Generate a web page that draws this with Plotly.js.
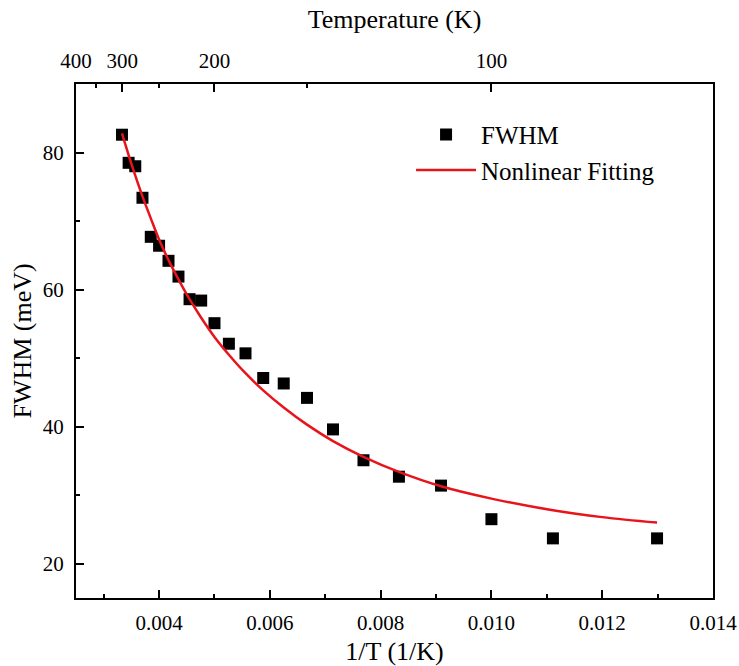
<!DOCTYPE html>
<html>
<head>
<meta charset="utf-8">
<script src="https://cdn.plot.ly/plotly-3.0.1.min.js"></script>
<style>html,body{margin:0;padding:0;background:#fff;}#chart{width:739px;height:666px;}</style>
</head>
<body>
<div id="chart"></div>
<script>
// Measured points: 1/T (1/K) and FWHM (meV)
var invT = [0.00333, 0.00345, 0.00357, 0.00370, 0.00385, 0.00400, 0.00417, 0.00435,
            0.00455, 0.00476, 0.00500, 0.00526, 0.00556, 0.00588, 0.00625, 0.00667,
            0.00714, 0.00769, 0.00833, 0.00909, 0.01000, 0.01111, 0.01299];
var fwhm = [82.6, 78.5, 78.0, 73.4, 67.7, 66.4, 64.2, 61.9,
            58.6, 58.4, 55.1, 52.1, 50.7, 47.1, 46.3, 44.2,
            39.6, 35.1, 32.7, 31.4, 26.5, 23.7, 23.7];
// Nonlinear fitting curve
var fitX = [0.00333, 0.00353, 0.00370, 0.00385, 0.00400, 0.00417, 0.00435, 0.00455,
            0.00476, 0.00500, 0.00526, 0.00556, 0.00588, 0.00625, 0.00667, 0.00714,
            0.00769, 0.00833, 0.00909, 0.01000, 0.01111, 0.01200, 0.01299];
var fitY = [82.8, 77.6, 73.6, 70.4, 67.3, 64.3, 61.5, 58.6,
            55.9, 53.1, 50.5, 47.8, 45.3, 42.8, 40.3, 37.9,
            35.6, 33.4, 31.3, 29.5, 27.8, 26.8, 26.0];
// Top axis temperature labels
var tempMajor = [400, 300, 200, 100];
var tempMinor = [350, 250, 150];
var bottomTicks = [0.004, 0.006, 0.008, 0.010, 0.012, 0.014];
var bottomTickText = ['0.004', '0.006', '0.008', '0.010', '0.012', '0.014'];
var yTicks = [20, 40, 60, 80];

var FONT = 'Liberation Serif, Times New Roman, serif';
var xr = [0.0025, 0.014];

var traces = [
  {x: invT, y: fwhm, mode: 'markers', type: 'scatter', name: 'FWHM',
   marker: {symbol: 'square', size: 12, color: '#000'}},
  {x: fitX, y: fitY, mode: 'lines', type: 'scatter', name: 'Nonlinear Fitting',
   line: {color: '#e8141c', width: 2.5, shape: 'spline'}},
  {x: invT, y: fwhm, xaxis: 'x2', mode: 'markers', type: 'scatter', showlegend: false,
   hoverinfo: 'skip', marker: {opacity: 0}}
];

var layout = {
  width: 739, height: 666,
  margin: {l: 76, r: 26, t: 84, b: 68},
  paper_bgcolor: '#fff', plot_bgcolor: '#fff',
  font: {family: FONT, size: 21, color: '#000'},
  showlegend: true,
  legend: {x: 0.526, y: 0.946, xanchor: 'left', yanchor: 'top', bgcolor: 'rgba(0,0,0,0)',
           font: {family: FONT, size: 25, color: '#000'}, itemwidth: 60, tracegroupgap: 0},
  xaxis: {
    range: xr, showgrid: false, zeroline: false, showline: true, linecolor: '#000', linewidth: 2,
    mirror: false, ticks: 'inside', ticklen: 8, tickwidth: 2, tickcolor: '#000',
    tickmode: 'array', tickvals: bottomTicks, ticktext: bottomTickText,
    tickfont: {family: FONT, size: 21}, ticklabelstandoff: 5,
    minor: {tickmode: 'linear', tick0: 0.003, dtick: 0.002, ticks: 'inside', ticklen: 4, tickwidth: 2, tickcolor: '#000', showgrid: false},
    title: {text: '1/T (1/K)', font: {family: FONT, size: 26}, standoff: 8}
  },
  xaxis2: {
    overlaying: 'x', side: 'top', range: xr, showgrid: false, zeroline: false,
    showline: true, linecolor: '#000', linewidth: 2,
    ticks: 'inside', ticklen: 8, tickwidth: 2, tickcolor: '#000',
    tickmode: 'array', tickvals: tempMajor.map(function(t){return 1/t;}),
    ticktext: tempMajor.map(String), tickfont: {family: FONT, size: 21}, ticklabelstandoff: 6,
    minor: {tickmode: 'array', tickvals: tempMinor.map(function(t){return 1/t;}), ticks: 'inside', ticklen: 4, tickwidth: 2, tickcolor: '#000', showgrid: false},
    title: {text: 'Temperature (K)', font: {family: FONT, size: 26}, standoff: 12}
  },
  yaxis: {
    range: [15, 90], showgrid: false, zeroline: false, showline: true, linecolor: '#000', linewidth: 2,
    mirror: true, ticks: 'inside', ticklen: 8, tickwidth: 2, tickcolor: '#000',
    tickmode: 'array', tickvals: yTicks, tickfont: {family: FONT, size: 21}, ticklabelstandoff: 6,
    minor: {tickmode: 'linear', tick0: 30, dtick: 20, ticks: 'inside', ticklen: 4, tickwidth: 2, tickcolor: '#000', showgrid: false},
    title: {text: 'FWHM (meV)', font: {family: FONT, size: 26}, standoff: 4}
  }
};

Plotly.newPlot('chart', traces, layout, {displayModeBar: false, staticPlot: true});
</script>
</body>
</html>
